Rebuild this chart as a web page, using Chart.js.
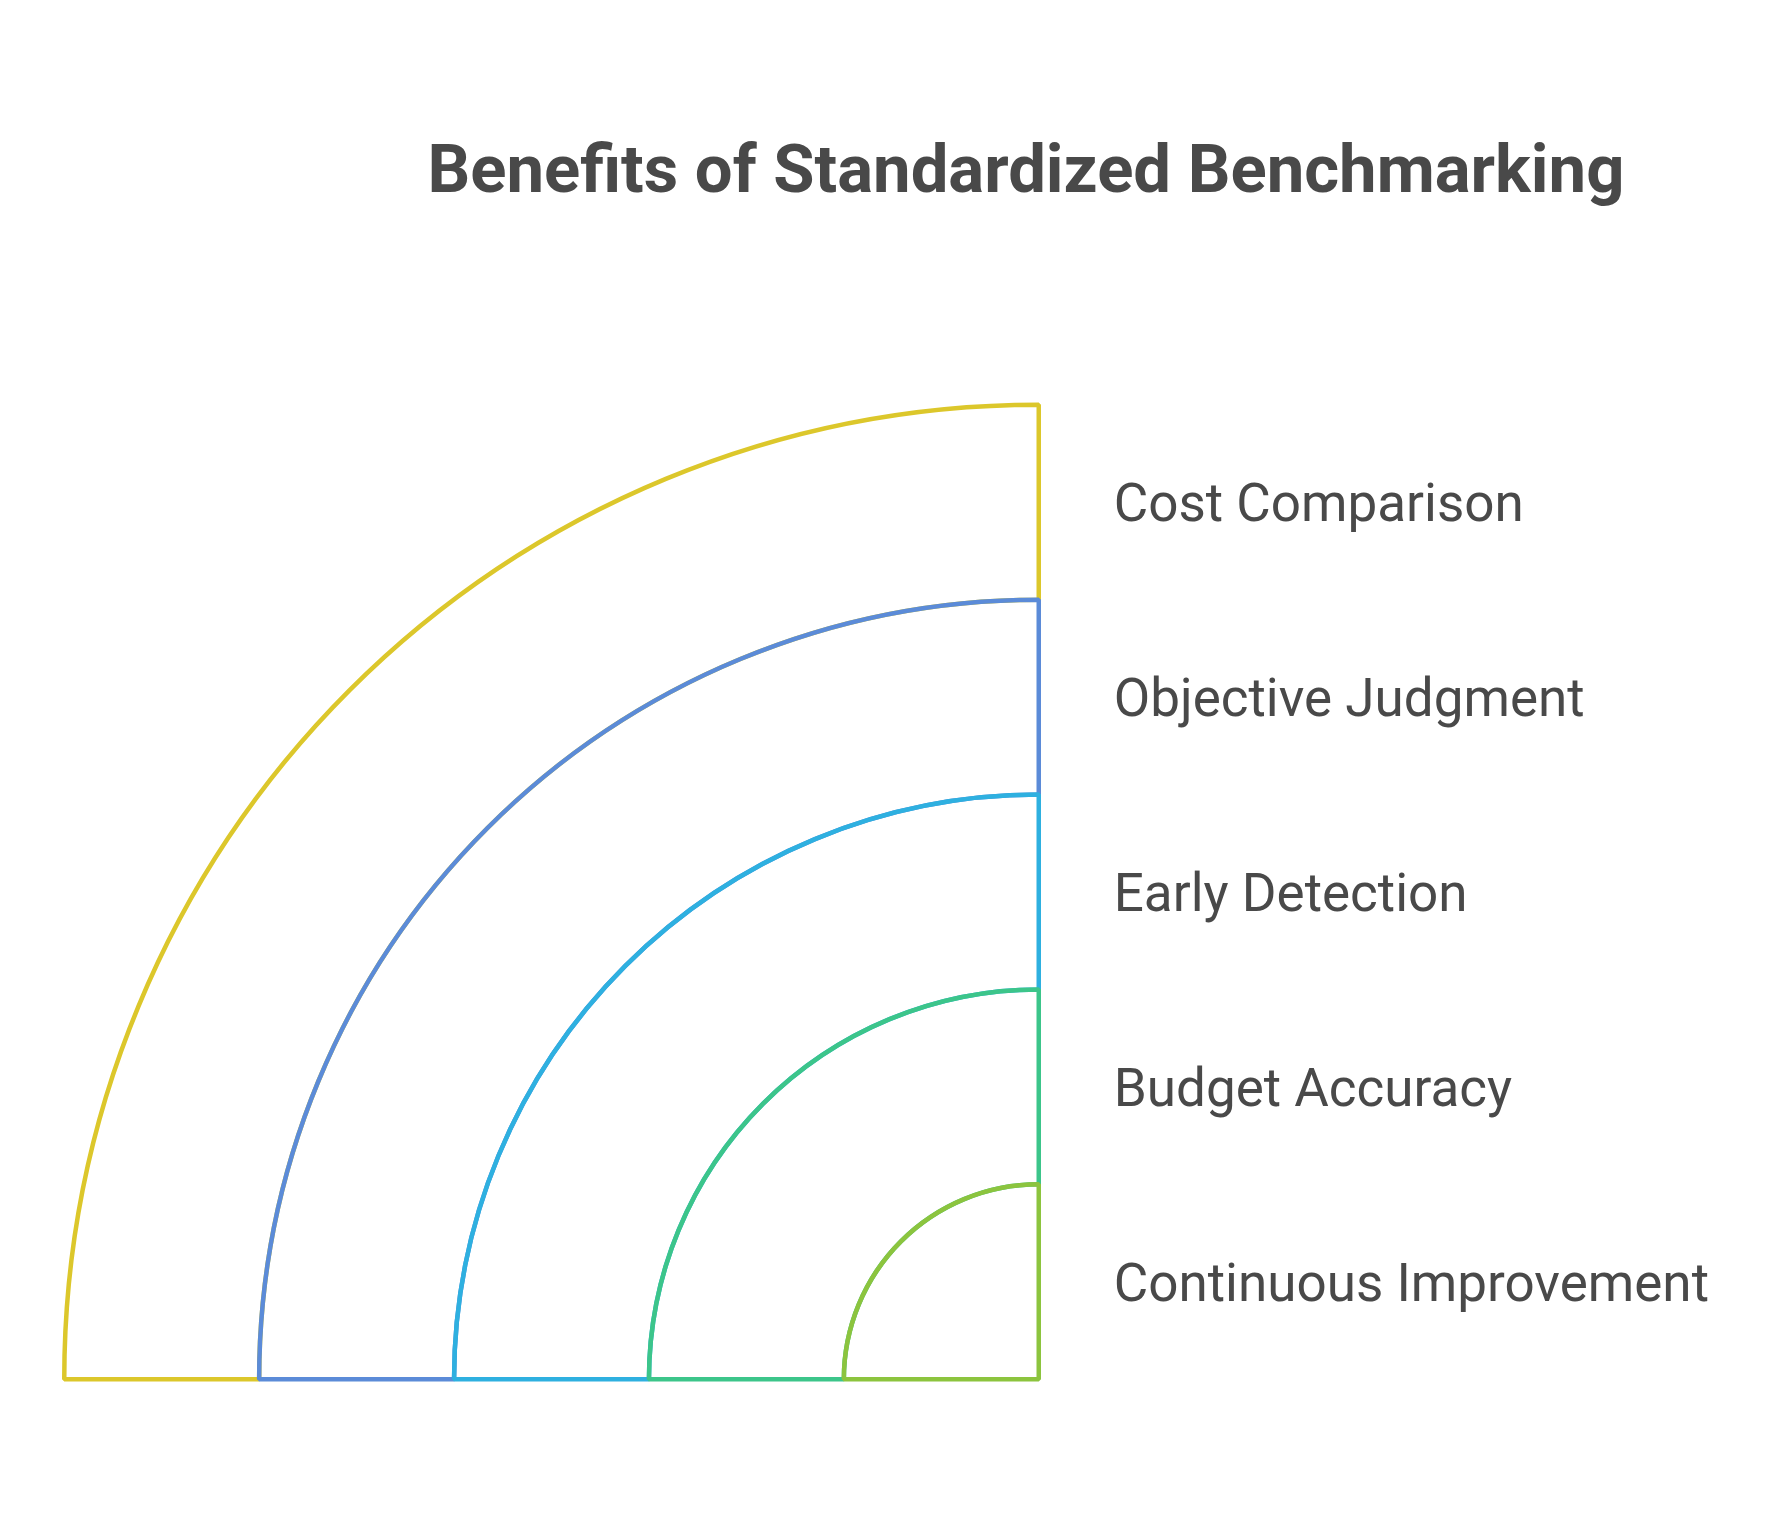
<!DOCTYPE html>
<html><head><meta charset="utf-8">
<script src="https://cdn.jsdelivr.net/npm/chart.js@4"></script>
<style>html,body{margin:0;padding:0;background:#fff}#w{width:1790px;height:1524px}</style>
</head><body><div id="w"><canvas id="c"></canvas></div>
<script>
const title = "Benefits of Standardized Benchmarking";
const categories = ["Cost Comparison","Objective Judgment","Early Detection","Budget Accuracy","Continuous Improvement"];
const ringValues = [1,1,1,1,1];
const colors = ["#dcc72b","#5b8bd8","#2eb0e0","#3cc58a","#8cc43e"];

const labelPlugin = {
  id:'labels',
  afterDraw(chart){
    const ctx = chart.ctx;
    ctx.save();
    ctx.fillStyle = '#494949';
    ctx.font = 'bold 67px Roboto';
    ctx.textAlign = 'center'; ctx.textBaseline = 'alphabetic';
    ctx.fillText(title, 1026, 192);
    const meta0 = chart.getDatasetMeta(0).data[0];
    const cx = meta0.x, cy = meta0.y;
    ctx.font = '53px Roboto';
    ctx.textAlign = 'left'; ctx.textBaseline = 'middle';
    categories.forEach((c,i)=>{
      const a = chart.getDatasetMeta(i).data[0];
      const mid = (a.outerRadius + a.innerRadius)/2;
      ctx.fillText(c, cx + 75, cy - mid + 6);
    });
    ctx.restore();
  }
};

new Chart(document.getElementById('c'), {
  type:'doughnut',
  data:{
    labels:['v'],
    datasets: categories.map((c,i)=>({
      label:c, data:[ringValues[i]], backgroundColor:'rgba(0,0,0,0)',
      borderColor:colors[i], borderWidth:4.5, borderAlign:'center', order:-i
    }))
  },
  options:{
    responsive:true, maintainAspectRatio:false, animation:false,
    rotation:-90, circumference:90, cutout:0,
    layout:{padding:{left:62,top:401,right:749,bottom:141}},
    plugins:{legend:{display:false},tooltip:{enabled:false},title:{display:false}}
  },
  plugins:[labelPlugin]
});
</script></body></html>
